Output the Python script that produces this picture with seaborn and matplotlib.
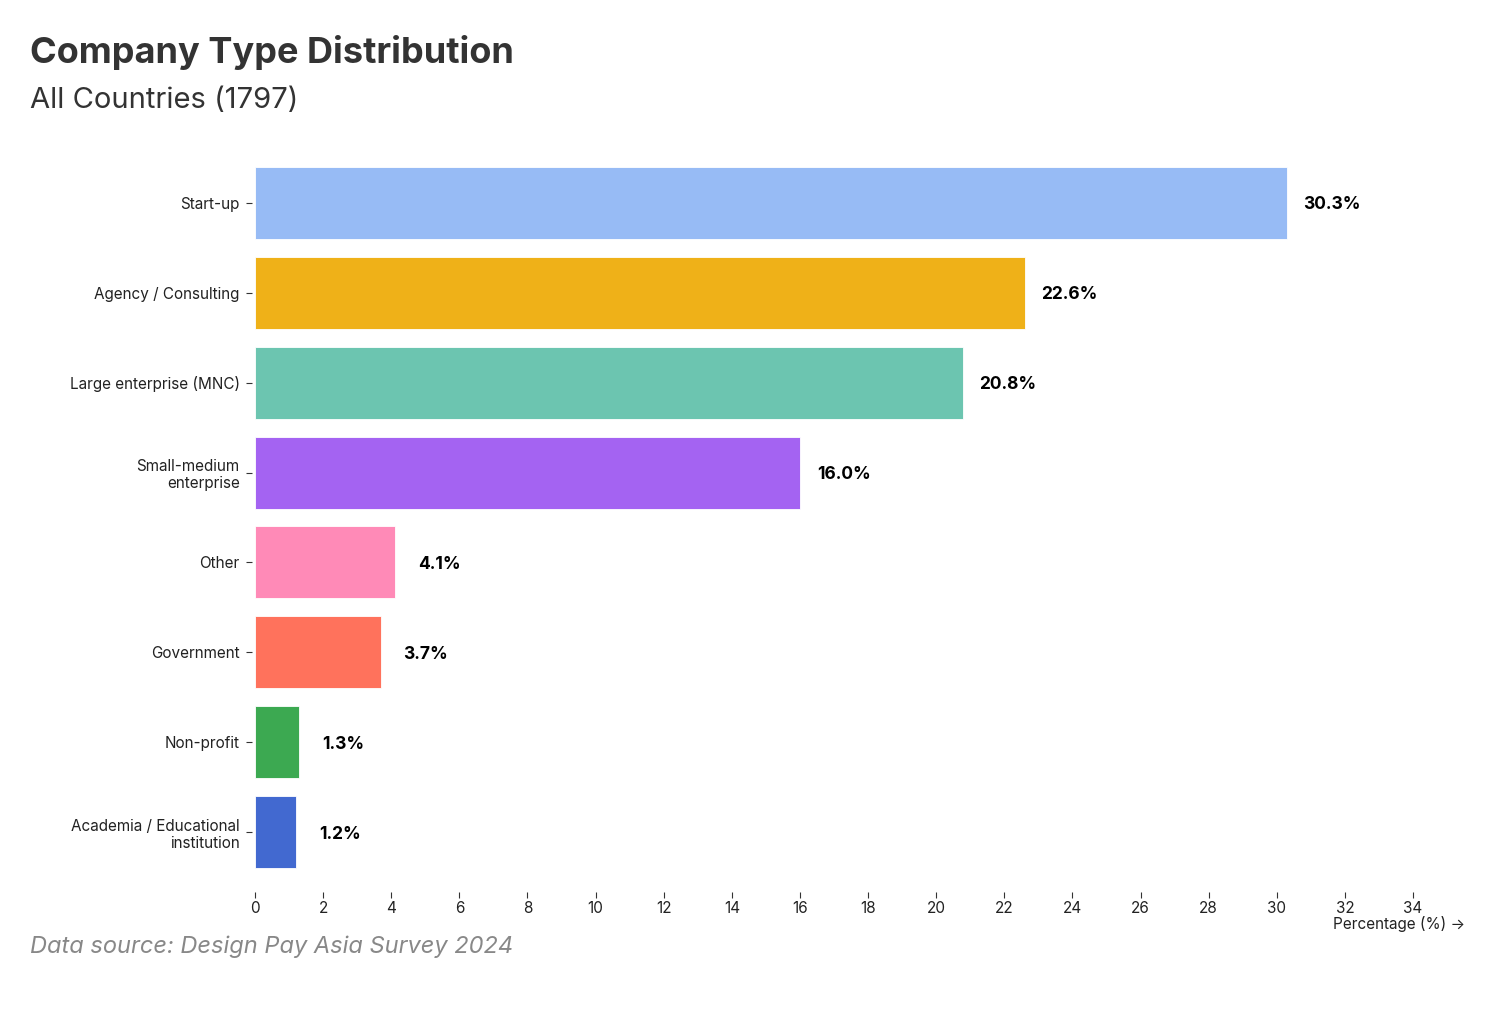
import pandas as pd
import matplotlib.pyplot as plt
import seaborn as sns

# Chart data
categories = [
    "Start-up",
    "Agency / Consulting",
    "Large enterprise (MNC)",
    "Small-medium\nenterprise",
    "Other",
    "Government",
    "Non-profit",
    "Academia / Educational\ninstitution",
]
percentages = [30.3, 22.6, 20.8, 16.0, 4.1, 3.7, 1.3, 1.2]
bar_colors = ["#97bbf5", "#efb118", "#6cc5b0", "#a463f2",
              "#ff8ab7", "#ff725c", "#3ca951", "#4269d0"]
x_ticks = list(range(0, 35, 2))

df = pd.DataFrame({"Company Type": categories, "Percentage": percentages})

sns.set_theme(style="white")
plt.rcParams["font.family"] = ["Inter", "DejaVu Sans"]

fig = plt.figure(figsize=(15, 10.22), dpi=100)
ax = fig.add_axes([0.17, 0.1419, 0.772, 0.7035])

sns.barplot(data=df, x="Percentage", y="Company Type", hue="Company Type",
            palette=bar_colors, saturation=1, legend=False, width=0.8,
            edgecolor="white", linewidth=0.6, ax=ax)

# value labels, centred a fixed distance past the bar end
for i, v in enumerate(percentages):
    ax.annotate(f"{v:.1f}%", xy=(v, i), xytext=(32, 0), textcoords="offset points",
                va="center_baseline", ha="center", fontsize=12.5, fontweight="bold",
                color="black")

ax.set_xlim(0, 34)
ax.set_ylim(7.5, -0.5)
ax.set_xticks(x_ticks)
ax.set_xticklabels([str(t) for t in x_ticks])
ax.set_xlabel("")
ax.set_ylabel("")

for s in ax.spines.values():
    s.set_visible(False)
ax.spines["bottom"].set_position(("outward", 11))
ax.spines["left"].set_position(("outward", 2))
ax.tick_params(axis="x", which="major", bottom=True, length=4, width=0.8,
               color="#333333", labelsize=11, labelcolor="#222222", pad=2)
ax.tick_params(axis="y", which="major", left=True, length=4, width=0.8,
               color="#333333", labelsize=11, labelcolor="#222222", pad=5)

fig.text(1465 / 1500, 1 - 924 / 1022, "Percentage (%) \u2192", ha="right", va="center",
         fontsize=11, color="#222222")

fig.text(30 / 1500, 1 - 53 / 1022, "Company Type Distribution", ha="left", va="center",
         fontsize=26, fontweight="bold", color="#333333")
fig.text(30 / 1500, 1 - 100 / 1022, "All Countries (1797)", ha="left", va="center",
         fontsize=21, color="#333333")
fig.text(30 / 1500, 1 - 947 / 1022, "Data source: Design Pay Asia Survey 2024", ha="left",
         va="center", fontsize=17, fontstyle="italic", color="#888888")

fig.savefig("out.png", dpi=100, facecolor="white")
